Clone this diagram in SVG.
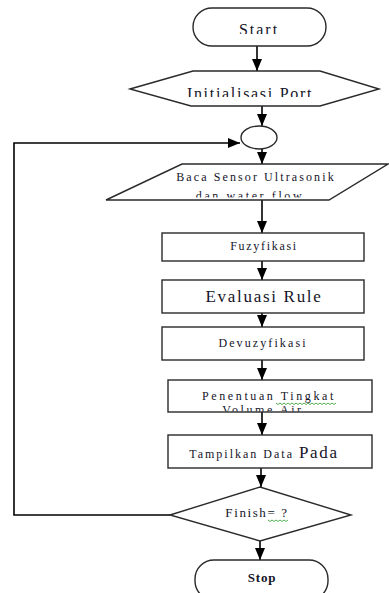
<svg xmlns="http://www.w3.org/2000/svg" width="389" height="593" viewBox="0 0 389 593">
<style>
.shape{fill:#fff;stroke:#2a2a2a;stroke-width:1.4}
.conn{fill:none;stroke:#000;stroke-width:1.6}
.t{font-family:"Liberation Serif","Times New Roman",serif;fill:#141428;text-anchor:middle}
.s{font-size:12px;letter-spacing:1.7px}
.l{font-size:17px;letter-spacing:1.7px}
.sq{fill:none;stroke:#2a9a2a;stroke-width:0.8}
</style>
<defs>
<marker id="ah" viewBox="0 0 12 10" refX="12" refY="5" markerWidth="12" markerHeight="10" markerUnits="userSpaceOnUse" orient="auto">
<path d="M0,0 L12,5 L0,10 Z" fill="#000"/>
</marker>
<clipPath id="cStart"><rect x="193" y="8" width="134" height="26"/></clipPath>
<clipPath id="cInit"><rect x="130" y="71" width="250" height="26"/></clipPath>
<clipPath id="cBaca"><rect x="106" y="164" width="283" height="33.5"/></clipPath>
<clipPath id="cPen"><rect x="168" y="380" width="204" height="31.5"/></clipPath>
</defs>
<g id="connectors">
<line class="conn" x1="257" y1="46" x2="257" y2="71" marker-end="url(#ah)"/>
<line class="conn" x1="262" y1="106" x2="262" y2="126" marker-end="url(#ah)"/>
<line class="conn" x1="262" y1="149" x2="262" y2="164" marker-end="url(#ah)"/>
<line class="conn" x1="262" y1="200" x2="262" y2="233" marker-end="url(#ah)"/>
<line class="conn" x1="262" y1="261" x2="262" y2="280" marker-end="url(#ah)"/>
<line class="conn" x1="262" y1="313" x2="262" y2="327" marker-end="url(#ah)"/>
<line class="conn" x1="262" y1="360" x2="262" y2="380" marker-end="url(#ah)"/>
<line class="conn" x1="262" y1="412" x2="262" y2="435" marker-end="url(#ah)"/>
<line class="conn" x1="261" y1="468" x2="261" y2="487" marker-end="url(#ah)"/>
<line class="conn" x1="260" y1="541" x2="260" y2="560" marker-end="url(#ah)"/>
<polyline class="conn" points="170,515 14,515 14,143 240,143" marker-end="url(#ah)"/>
</g>
<g id="start">
<rect class="shape" x="193" y="8" width="133" height="38" rx="19"/>
<text class="t" x="259" y="35" font-size="16" letter-spacing="2" clip-path="url(#cStart)">Start</text>
</g>
<g id="init">
<polygon class="shape" points="130,89 193,71 320,71 379,89 320,106 191,106"/>
<text class="t" x="250" y="98.5" font-size="16" letter-spacing="1.7" clip-path="url(#cInit)">Initialisasi Port</text>
</g>
<g id="connector-circle">
<ellipse class="shape" cx="259" cy="137.5" rx="18" ry="11.5"/>
</g>
<g id="baca">
<polygon class="shape" points="182,164 388,164 329,200 106,200"/>
<g clip-path="url(#cBaca)">
<text class="t" x="256" y="181" font-size="12" letter-spacing="2.1">Baca Sensor Ultrasonik</text>
<text class="t" x="250" y="199.5" font-size="12" letter-spacing="2.6">dan water flow</text>
</g>
</g>
<g id="fuzy">
<rect class="shape" x="162" y="233" width="202" height="28"/>
<text class="t s" x="264" y="250">Fuzyfikasi</text>
</g>
<g id="evaluasi">
<rect class="shape" x="162" y="280" width="202" height="33"/>
<text class="t l" x="264" y="302">Evaluasi Rule</text>
</g>
<g id="devuzy">
<rect class="shape" x="162" y="327" width="202" height="33"/>
<text class="t" x="263" y="347" font-size="12" letter-spacing="2.1">Devuzyfikasi</text>
</g>
<g id="penentuan">
<rect class="shape" x="168" y="380" width="204" height="32"/>
<g clip-path="url(#cPen)">
<text class="t" x="269" y="400" font-size="12" letter-spacing="2.6">Penentuan Tingkat</text>
<text class="t" x="263" y="414" font-size="12" letter-spacing="2.6">Volume Air</text>
</g>
<path class="sq" d="M276,403 l2,1.5 l2,-1.5 l2,1.5 l2,-1.5 l2,1.5 l2,-1.5 l2,1.5 l2,-1.5 l2,1.5 l2,-1.5 l2,1.5 l2,-1.5 l2,1.5 l2,-1.5 l2,1.5 l2,-1.5 l2,1.5 l2,-1.5 l2,1.5 l2,-1.5 l2,1.5 l2,-1.5 l2,1.5 l2,-1.5 l2,1.5 l2,-1.5 l2,1.5 l2,-1.5 l2,1.5 l2,-1.5"/>
</g>
<g id="tampilkan">
<rect class="shape" x="168" y="435" width="204" height="33"/>
<text class="t" x="264" y="458"><tspan font-size="12" letter-spacing="2">Tampilkan Data </tspan><tspan class="l">Pada</tspan></text>
</g>
<g id="finish">
<polygon class="shape" points="170,515 260,487 351,515 260,541"/>
<text class="t" x="257" y="517" font-size="13" letter-spacing="1.6">Finish= ?</text>
<path class="sq" d="M268,520 l2,1.5 l2,-1.5 l2,1.5 l2,-1.5 l2,1.5 l2,-1.5 l2,1.5 l2,-1.5 l2,1.5 l2,-1.5"/>
</g>
<g id="stop">
<rect class="shape" x="195" y="560" width="133" height="40" rx="19"/>
<text class="t" x="262" y="582" font-size="13" font-weight="bold" letter-spacing="0.8">Stop</text>
</g>
</svg>
